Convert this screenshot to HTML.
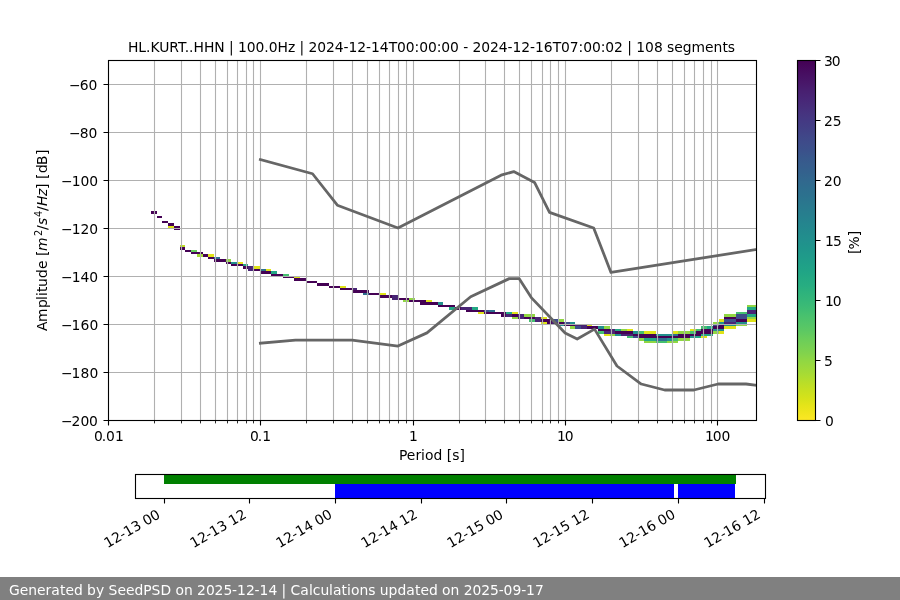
<!DOCTYPE html>
<html lang="en">
<head>
<meta charset="utf-8">
<title>HL.KURT..HHN PPSD</title>
<style>
html,body{margin:0;padding:0;background:#fff;}
body{width:900px;height:600px;overflow:hidden;position:relative;font-family:'DejaVu Sans','Liberation Sans',sans-serif;}
#plot{position:absolute;left:0;top:0;display:block;}
text{white-space:pre;}
</style>
</head>
<body>
<svg id="plot" width="900" height="600" viewBox="0 0 900 600" role="img" aria-label="Probabilistic power spectral density for HL.KURT..HHN">
<rect width="900" height="600" fill="#fff"/>
<g id="psd-histogram" shape-rendering="crispEdges">
<rect x="151" y="211" width="6" height="3" fill="#440154"/>
<rect x="157" y="216" width="5" height="2" fill="#440154"/>
<rect x="162" y="221" width="6" height="2" fill="#440154"/>
<rect x="168" y="223" width="6" height="3" fill="#440154"/>
<rect x="174" y="226" width="6" height="2" fill="#440154"/>
<rect x="168" y="226" width="6" height="2" fill="#dfe318"/>
<rect x="174" y="228" width="6" height="2" fill="#440154"/>
<rect x="180" y="245" width="5" height="2" fill="#bddf26"/>
<rect x="180" y="247" width="5" height="3" fill="#440154"/>
<rect x="185" y="250" width="6" height="2" fill="#440154"/>
<rect x="191" y="250" width="6" height="2" fill="#67cc5c"/>
<rect x="191" y="252" width="12" height="2" fill="#440154"/>
<rect x="203" y="254" width="5" height="3" fill="#440154"/>
<rect x="197" y="254" width="6" height="3" fill="#a5db36"/>
<rect x="208" y="254" width="6" height="3" fill="#dfe318"/>
<rect x="214" y="257" width="6" height="2" fill="#2d708e"/>
<rect x="208" y="257" width="6" height="2" fill="#440154"/>
<rect x="214" y="259" width="12" height="3" fill="#440154"/>
<rect x="226" y="259" width="5" height="3" fill="#90d743"/>
<rect x="231" y="262" width="6" height="2" fill="#21908d"/>
<rect x="226" y="262" width="5" height="2" fill="#440154"/>
<rect x="237" y="262" width="6" height="2" fill="#dfe318"/>
<rect x="243" y="264" width="5" height="2" fill="#22a884"/>
<rect x="231" y="264" width="12" height="2" fill="#440154"/>
<rect x="243" y="266" width="5" height="3" fill="#440154"/>
<rect x="248" y="266" width="6" height="3" fill="#482475"/>
<rect x="254" y="266" width="6" height="3" fill="#dfe318"/>
<rect x="260" y="269" width="6" height="2" fill="#2d708e"/>
<rect x="254" y="269" width="6" height="2" fill="#440154"/>
<rect x="248" y="269" width="6" height="2" fill="#482475"/>
<rect x="266" y="269" width="5" height="2" fill="#dfe318"/>
<rect x="271" y="271" width="6" height="3" fill="#22a884"/>
<rect x="260" y="271" width="11" height="3" fill="#440154"/>
<rect x="271" y="274" width="12" height="2" fill="#440154"/>
<rect x="283" y="274" width="6" height="2" fill="#44bf70"/>
<rect x="283" y="276" width="11" height="2" fill="#440154"/>
<rect x="294" y="276" width="6" height="2" fill="#dfe318"/>
<rect x="294" y="278" width="12" height="3" fill="#440154"/>
<rect x="306" y="281" width="11" height="2" fill="#440154"/>
<rect x="317" y="283" width="12" height="3" fill="#440154"/>
<rect x="329" y="286" width="11" height="2" fill="#440154"/>
<rect x="340" y="286" width="6" height="2" fill="#dfe318"/>
<rect x="340" y="288" width="12" height="2" fill="#440154"/>
<rect x="352" y="288" width="5" height="2" fill="#482475"/>
<rect x="352" y="290" width="17" height="3" fill="#440154"/>
<rect x="363" y="293" width="6" height="2" fill="#2d708e"/>
<rect x="369" y="293" width="11" height="2" fill="#440154"/>
<rect x="380" y="293" width="6" height="2" fill="#dfe318"/>
<rect x="380" y="295" width="12" height="3" fill="#440154"/>
<rect x="392" y="295" width="6" height="3" fill="#482475"/>
<rect x="398" y="298" width="11" height="2" fill="#440154"/>
<rect x="392" y="298" width="6" height="2" fill="#482475"/>
<rect x="409" y="298" width="6" height="2" fill="#90d743"/>
<rect x="409" y="300" width="17" height="2" fill="#440154"/>
<rect x="403" y="300" width="6" height="2" fill="#90d743"/>
<rect x="426" y="300" width="6" height="2" fill="#dfe318"/>
<rect x="438" y="302" width="5" height="3" fill="#21908d"/>
<rect x="420" y="302" width="18" height="3" fill="#440154"/>
<rect x="438" y="305" width="17" height="2" fill="#440154"/>
<rect x="747" y="305" width="9" height="2" fill="#90d743"/>
<rect x="449" y="307" width="6" height="3" fill="#22a884"/>
<rect x="472" y="307" width="6" height="3" fill="#22a884"/>
<rect x="747" y="307" width="9" height="3" fill="#22a884"/>
<rect x="455" y="307" width="6" height="3" fill="#440154"/>
<rect x="461" y="307" width="11" height="3" fill="#482475"/>
<rect x="489" y="310" width="6" height="2" fill="#2d708e"/>
<rect x="484" y="310" width="5" height="2" fill="#3d4d8a"/>
<rect x="466" y="310" width="18" height="2" fill="#440154"/>
<rect x="747" y="310" width="9" height="2" fill="#482475"/>
<rect x="506" y="312" width="6" height="2" fill="#22a884"/>
<rect x="484" y="312" width="22" height="2" fill="#440154"/>
<rect x="736" y="312" width="11" height="2" fill="#44bf70"/>
<rect x="747" y="312" width="9" height="2" fill="#482475"/>
<rect x="478" y="312" width="6" height="2" fill="#dfe318"/>
<rect x="512" y="312" width="6" height="2" fill="#dfe318"/>
<rect x="747" y="314" width="9" height="3" fill="#22a884"/>
<rect x="736" y="314" width="11" height="3" fill="#3d4d8a"/>
<rect x="501" y="314" width="5" height="3" fill="#440154"/>
<rect x="512" y="314" width="6" height="3" fill="#440154"/>
<rect x="506" y="314" width="6" height="3" fill="#482475"/>
<rect x="518" y="314" width="6" height="3" fill="#482475"/>
<rect x="524" y="314" width="11" height="3" fill="#90d743"/>
<rect x="724" y="314" width="12" height="3" fill="#90d743"/>
<rect x="736" y="317" width="11" height="2" fill="#3d4d8a"/>
<rect x="524" y="317" width="11" height="2" fill="#440154"/>
<rect x="724" y="317" width="12" height="2" fill="#440154"/>
<rect x="518" y="317" width="6" height="2" fill="#482475"/>
<rect x="535" y="317" width="6" height="2" fill="#482475"/>
<rect x="512" y="317" width="6" height="2" fill="#90d743"/>
<rect x="747" y="317" width="9" height="2" fill="#90d743"/>
<rect x="541" y="317" width="6" height="2" fill="#dfe318"/>
<rect x="552" y="319" width="6" height="3" fill="#3d4d8a"/>
<rect x="724" y="319" width="12" height="3" fill="#3d4d8a"/>
<rect x="541" y="319" width="11" height="3" fill="#440154"/>
<rect x="736" y="319" width="11" height="3" fill="#440154"/>
<rect x="529" y="319" width="6" height="3" fill="#44bf70"/>
<rect x="535" y="319" width="6" height="3" fill="#482475"/>
<rect x="558" y="319" width="6" height="3" fill="#90d743"/>
<rect x="719" y="319" width="5" height="3" fill="#dfe318"/>
<rect x="747" y="319" width="9" height="3" fill="#dfe318"/>
<rect x="570" y="322" width="5" height="2" fill="#21908d"/>
<rect x="719" y="322" width="5" height="2" fill="#21908d"/>
<rect x="736" y="322" width="11" height="2" fill="#21908d"/>
<rect x="564" y="322" width="6" height="2" fill="#3d4d8a"/>
<rect x="547" y="322" width="5" height="2" fill="#440154"/>
<rect x="558" y="322" width="6" height="2" fill="#440154"/>
<rect x="552" y="322" width="6" height="2" fill="#482475"/>
<rect x="724" y="322" width="12" height="2" fill="#482475"/>
<rect x="713" y="322" width="6" height="2" fill="#90d743"/>
<rect x="541" y="322" width="6" height="2" fill="#dfe318"/>
<rect x="558" y="324" width="6" height="2" fill="#21908d"/>
<rect x="724" y="324" width="12" height="2" fill="#21908d"/>
<rect x="713" y="324" width="6" height="2" fill="#3d4d8a"/>
<rect x="564" y="324" width="11" height="2" fill="#440154"/>
<rect x="719" y="324" width="5" height="2" fill="#440154"/>
<rect x="575" y="324" width="12" height="2" fill="#482475"/>
<rect x="736" y="324" width="11" height="2" fill="#90d743"/>
<rect x="587" y="324" width="5" height="2" fill="#dfe318"/>
<rect x="598" y="326" width="6" height="3" fill="#21908d"/>
<rect x="707" y="326" width="6" height="3" fill="#22a884"/>
<rect x="575" y="326" width="6" height="3" fill="#3d4d8a"/>
<rect x="587" y="326" width="11" height="3" fill="#440154"/>
<rect x="713" y="326" width="11" height="3" fill="#440154"/>
<rect x="701" y="326" width="6" height="3" fill="#44bf70"/>
<rect x="581" y="326" width="6" height="3" fill="#482475"/>
<rect x="570" y="326" width="5" height="3" fill="#90d743"/>
<rect x="604" y="326" width="6" height="3" fill="#90d743"/>
<rect x="724" y="326" width="12" height="3" fill="#dfe318"/>
<rect x="713" y="329" width="11" height="2" fill="#21908d"/>
<rect x="615" y="329" width="6" height="2" fill="#22a884"/>
<rect x="598" y="329" width="12" height="2" fill="#440154"/>
<rect x="701" y="329" width="12" height="2" fill="#440154"/>
<rect x="696" y="329" width="5" height="2" fill="#44bf70"/>
<rect x="610" y="329" width="5" height="2" fill="#482475"/>
<rect x="621" y="329" width="6" height="2" fill="#90d743"/>
<rect x="627" y="329" width="6" height="2" fill="#dfe318"/>
<rect x="690" y="329" width="6" height="2" fill="#dfe318"/>
<rect x="633" y="331" width="5" height="3" fill="#21908d"/>
<rect x="615" y="331" width="18" height="3" fill="#440154"/>
<rect x="696" y="331" width="17" height="3" fill="#440154"/>
<rect x="598" y="331" width="6" height="3" fill="#44bf70"/>
<rect x="638" y="331" width="6" height="3" fill="#44bf70"/>
<rect x="690" y="331" width="6" height="3" fill="#44bf70"/>
<rect x="604" y="331" width="11" height="3" fill="#482475"/>
<rect x="678" y="331" width="12" height="3" fill="#90d743"/>
<rect x="713" y="331" width="6" height="3" fill="#90d743"/>
<rect x="644" y="331" width="12" height="3" fill="#dfe318"/>
<rect x="673" y="331" width="5" height="3" fill="#dfe318"/>
<rect x="719" y="331" width="5" height="3" fill="#dfe318"/>
<rect x="615" y="334" width="6" height="2" fill="#21908d"/>
<rect x="656" y="334" width="17" height="2" fill="#21908d"/>
<rect x="701" y="334" width="12" height="2" fill="#22a884"/>
<rect x="673" y="334" width="5" height="2" fill="#2d708e"/>
<rect x="633" y="334" width="23" height="2" fill="#440154"/>
<rect x="678" y="334" width="23" height="2" fill="#440154"/>
<rect x="621" y="334" width="12" height="2" fill="#482475"/>
<rect x="610" y="334" width="5" height="2" fill="#90d743"/>
<rect x="604" y="334" width="6" height="2" fill="#dfe318"/>
<rect x="690" y="336" width="6" height="2" fill="#21908d"/>
<rect x="696" y="336" width="5" height="2" fill="#22a884"/>
<rect x="633" y="336" width="5" height="2" fill="#3d4d8a"/>
<rect x="638" y="336" width="52" height="2" fill="#440154"/>
<rect x="627" y="336" width="6" height="2" fill="#44bf70"/>
<rect x="701" y="336" width="6" height="2" fill="#dfe318"/>
<rect x="667" y="338" width="6" height="3" fill="#21908d"/>
<rect x="644" y="338" width="12" height="3" fill="#22a884"/>
<rect x="656" y="338" width="11" height="3" fill="#2d708e"/>
<rect x="673" y="338" width="5" height="3" fill="#44bf70"/>
<rect x="638" y="338" width="6" height="3" fill="#90d743"/>
<rect x="678" y="338" width="12" height="3" fill="#90d743"/>
<rect x="656" y="341" width="11" height="2" fill="#44bf70"/>
<rect x="644" y="341" width="12" height="2" fill="#90d743"/>
<rect x="667" y="341" width="11" height="2" fill="#90d743"/>
</g>
<path id="grid" d="M154.5 60.5V420.5M181.5 60.5V420.5M200.5 60.5V420.5M215.5 60.5V420.5M227.5 60.5V420.5M237.5 60.5V420.5M246.5 60.5V420.5M253.5 60.5V420.5M260.5 60.5V420.5M306.5 60.5V420.5M333.5 60.5V420.5M352.5 60.5V420.5M367.5 60.5V420.5M379.5 60.5V420.5M389.5 60.5V420.5M398.5 60.5V420.5M406.5 60.5V420.5M413.5 60.5V420.5M459.5 60.5V420.5M485.5 60.5V420.5M504.5 60.5V420.5M519.5 60.5V420.5M531.5 60.5V420.5M542.5 60.5V420.5M550.5 60.5V420.5M558.5 60.5V420.5M565.5 60.5V420.5M611.5 60.5V420.5M638.5 60.5V420.5M657.5 60.5V420.5M672.5 60.5V420.5M684.5 60.5V420.5M694.5 60.5V420.5M703.5 60.5V420.5M711.5 60.5V420.5M717.5 60.5V420.5M108.5 372.5H756.5M108.5 324.5H756.5M108.5 276.5H756.5M108.5 228.5H756.5M108.5 180.5H756.5M108.5 132.5H756.5M108.5 84.5H756.5" fill="none" stroke="#b0b0b0" stroke-width="1.111"/>
<clipPath id="axclip"><rect x="108.5" y="60.5" width="648" height="360"/></clipPath>
<g id="noise-models" clip-path="url(#axclip)" fill="none" stroke="#666666" stroke-width="2.778" stroke-linejoin="round" stroke-linecap="square">
<polyline id="nhnm" points="260.37,159.60 312.54,173.76 337.34,205.21 397.97,227.99 501.08,175.20 513.72,171.59 534.53,182.40 549.51,212.40 593.68,227.99 610.97,272.40 801.27,242.39"/>
<polyline id="nlnm" points="260.37,343.20 295.48,340.08 352.10,340.08 397.97,346.07 426.97,332.88 470.67,296.75 509.26,278.63 519.24,278.64 531.30,297.59 565.10,333.00 577.17,339.00 594.53,329.10 616.98,366.00 641.24,384.01 664.63,389.99 693.87,390.00 718.13,384.01 746.05,384.00 796.08,389.97 836.04,382.49"/>
</g>
<g id="axes-frame" fill="none" stroke="#000" stroke-width="1.111" stroke-linecap="square">
<rect x="108.5" y="60.5" width="648" height="360"/>
<path stroke-linecap="butt" d="M260.5 420.5V425.5M413.5 420.5V425.5M565.5 420.5V425.5M717.5 420.5V425.5M108.5 420.5V425.5M103.5 372.5H108.5M103.5 324.5H108.5M103.5 276.5H108.5M103.5 228.5H108.5M103.5 180.5H108.5M103.5 132.5H108.5M103.5 84.5H108.5M103.5 420.5H108.5"/>
<path stroke-linecap="butt" stroke-width="0.833" d="M154.5 420.5V423.4M181.5 420.5V423.4M200.5 420.5V423.4M215.5 420.5V423.4M227.5 420.5V423.4M237.5 420.5V423.4M246.5 420.5V423.4M253.5 420.5V423.4M306.5 420.5V423.4M333.5 420.5V423.4M352.5 420.5V423.4M367.5 420.5V423.4M379.5 420.5V423.4M389.5 420.5V423.4M398.5 420.5V423.4M406.5 420.5V423.4M459.5 420.5V423.4M485.5 420.5V423.4M504.5 420.5V423.4M519.5 420.5V423.4M531.5 420.5V423.4M542.5 420.5V423.4M550.5 420.5V423.4M558.5 420.5V423.4M611.5 420.5V423.4M638.5 420.5V423.4M657.5 420.5V423.4M672.5 420.5V423.4M684.5 420.5V423.4M694.5 420.5V423.4M703.5 420.5V423.4M711.5 420.5V423.4"/>
</g>
<linearGradient id="cbgrad" x1="0" y1="0" x2="0" y2="1"><stop offset="0.0000" stop-color="#440154"/><stop offset="0.0208" stop-color="#46085c"/><stop offset="0.0417" stop-color="#471063"/><stop offset="0.0625" stop-color="#481769"/><stop offset="0.0833" stop-color="#481f70"/><stop offset="0.1042" stop-color="#482576"/><stop offset="0.1250" stop-color="#472c7a"/><stop offset="0.1458" stop-color="#46337f"/><stop offset="0.1667" stop-color="#443983"/><stop offset="0.1875" stop-color="#423f85"/><stop offset="0.2083" stop-color="#404688"/><stop offset="0.2292" stop-color="#3e4c8a"/><stop offset="0.2500" stop-color="#3b518b"/><stop offset="0.2708" stop-color="#38588c"/><stop offset="0.2917" stop-color="#365d8d"/><stop offset="0.3125" stop-color="#33628d"/><stop offset="0.3333" stop-color="#31688e"/><stop offset="0.3542" stop-color="#2e6d8e"/><stop offset="0.3750" stop-color="#2c718e"/><stop offset="0.3958" stop-color="#2a778e"/><stop offset="0.4167" stop-color="#287c8e"/><stop offset="0.4375" stop-color="#26818e"/><stop offset="0.4583" stop-color="#24868e"/><stop offset="0.4792" stop-color="#228b8d"/><stop offset="0.5000" stop-color="#21908d"/><stop offset="0.5208" stop-color="#1f958b"/><stop offset="0.5417" stop-color="#1f9a8a"/><stop offset="0.5625" stop-color="#1f9f88"/><stop offset="0.5833" stop-color="#20a486"/><stop offset="0.6042" stop-color="#23a983"/><stop offset="0.6250" stop-color="#27ad81"/><stop offset="0.6458" stop-color="#2eb37c"/><stop offset="0.6667" stop-color="#35b779"/><stop offset="0.6875" stop-color="#3dbc74"/><stop offset="0.7083" stop-color="#48c16e"/><stop offset="0.7292" stop-color="#52c569"/><stop offset="0.7500" stop-color="#5cc863"/><stop offset="0.7708" stop-color="#69cd5b"/><stop offset="0.7917" stop-color="#75d054"/><stop offset="0.8125" stop-color="#81d34d"/><stop offset="0.8333" stop-color="#90d743"/><stop offset="0.8542" stop-color="#9dd93b"/><stop offset="0.8750" stop-color="#aadc32"/><stop offset="0.8958" stop-color="#bade28"/><stop offset="0.9167" stop-color="#c8e020"/><stop offset="0.9375" stop-color="#d5e21a"/><stop offset="0.9583" stop-color="#e5e419"/><stop offset="0.9792" stop-color="#f1e51d"/><stop offset="1.0000" stop-color="#fde725"/></linearGradient>
<rect id="colorbar" x="797.5" y="60.5" width="18" height="360" fill="url(#cbgrad)" stroke="#000" stroke-width="1.111"/>
<path d="M815.5 60.5H820.5M815.5 120.5H820.5M815.5 180.5H820.5M815.5 240.5H820.5M815.5 300.5H820.5M815.5 360.5H820.5M815.5 420.5H820.5" fill="none" stroke="#000" stroke-width="1.111"/>
<g id="coverage" shape-rendering="crispEdges">
<rect x="164" y="475" width="572" height="9" fill="#008000"/>
<rect x="335" y="484" width="339" height="14" fill="#0000ff"/>
<rect x="678" y="484" width="57" height="14" fill="#0000ff"/>
</g>
<rect x="135.5" y="474.5" width="630" height="24" fill="none" stroke="#000" stroke-width="1.111"/>
<path d="M164.5 498.5V503.5M249.5 498.5V503.5M335.5 498.5V503.5M421.5 498.5V503.5M506.5 498.5V503.5M592.5 498.5V503.5M678.5 498.5V503.5M764.5 498.5V503.5" fill="none" stroke="#000" stroke-width="1.111"/>
<g id="labels" font-family="'DejaVu Sans','Liberation Sans',sans-serif" font-size="13.889px" fill="#000">
<text x="94.08 101.83 105.95 114.95" y="440.83">0.01</text>
<text x="250.07 257.82 262.19" y="440.58">0.1</text>
<text x="409.1" y="440.58">1</text>
<text x="557.09 564.72" y="440.83">10</text>
<text x="704.94 712.82 721.57" y="440.58">100</text>
<text x="399.11 406.74 415.49 420.99 425.11 433.61 442.49 446.86 452.36 459.49" y="459.57">Period [s]</text>
<text x="61 71.62 80.38 89.12" y="425.58">−200</text>
<text x="61 71.62 80.5 89.38" y="377.58">−180</text>
<text x="61 71.62 80.5 89.38" y="329.58">−160</text>
<text x="60.88 71.75 80.38 89.13" y="281.83">−140</text>
<text x="60.88 71.75 80.38 89.13" y="233.83">−120</text>
<text x="60.88 71.75 80.38 89.13" y="185.83">−100</text>
<text x="68.93 79.81 88.43" y="137.58">−80</text>
<text x="68.93 79.81 88.43" y="89.58">−60</text>
<text x="127.9 138.28 146.03 150.4 159.28 169.15 178.03 184.65 189.03 193.4 204.03 214.15 224.53 228.9 233.53 237.9 246.78 255.53 264.27 268.65 277.4 288.02 295.15 299.52 304.15 308.52 317.27 326.02 334.77 343.52 348.4 357.27 366.02 370.9 379.77 388.77 397.02 405.77 414.52 419.15 427.9 436.65 441.27 450.02 458.77 463.15 468.02 472.4 481.15 489.9 498.65 507.4 512.52 521.15 529.9 535.02 543.65 552.77 561.02 569.77 578.52 583.15 591.9 600.65 605.27 614.02 622.77 627.15 631.77 636.15 645.02 654.02 662.65 667.02 674.15 682.65 691.52 705.02 713.52 722.52 727.77" y="51.67">HL.KURT..HHN | 100.0Hz | 2024-12-14T00:00:00 - 2024-12-16T07:00:02 | 108 segments</text>
<text x="824.97" y="425.83">0</text>
<text x="823.97" y="365.83">5</text>
<text x="824.97 832.85" y="305.58">10</text>
<text x="824.97 833.1" y="245.58">15</text>
<text x="823.97 832.72" y="185.83">20</text>
<text x="823.97 832.72" y="125.83">25</text>
<text x="823.97 831.72" y="65.58">30</text>
<text transform="translate(858.5 255.11) rotate(-90)" x="1 5.5 18.88" y="0">[%]</text>
<text transform="translate(107.51 548.23) rotate(-30)" x="0 8.88 17.38 22.5 31.38 40.12 44.5 53" y="0">12-13 00</text>
<text transform="translate(193.46 548.23) rotate(-30)" x="0 8.88 17.38 22.5 31.38 40.12 44.5 53.38" y="0">12-13 12</text>
<text transform="translate(279.4 548.23) rotate(-30)" x="0 9.12 17.38 22.75 31.62 40.12 44.5 53.25" y="0">12-14 00</text>
<text transform="translate(364.6 548.23) rotate(-30)" x="0 8.88 17.88 22.5 31.38 40.12 44.25 53.38" y="0">12-14 12</text>
<text transform="translate(450.54 548.23) rotate(-30)" x="0 8.88 17.38 22.5 31.38 40.12 44.5 53" y="0">12-15 00</text>
<text transform="translate(536.49 548.23) rotate(-30)" x="0 8.88 17.38 22.5 31.38 40.12 44.5 53.38" y="0">12-15 12</text>
<text transform="translate(622.43 548.23) rotate(-30)" x="0 9.12 17.38 22.5 31.62 40.25 44.62 53.38" y="0">12-16 00</text>
<text transform="translate(707.63 548.23) rotate(-30)" x="-0.25 8.88 17.88 22.5 31.38 40.25 44.62 53.25" y="0">12-16 12</text>
<text id="ylabel" transform="translate(48.66 331.79) rotate(-90)"><tspan x="0.75 9.75 23.78 31.85 35.71 39.81 44.76 53.81 62.88 71.17 75.84" y="-1.36">Amplitude [</tspan><tspan x="80.76" y="-1.36" font-style="oblique">m</tspan><tspan x="95.68" y="-6.67" font-size="9.722px">2</tspan><tspan x="101.75" y="-1.36">/</tspan><tspan x="106.68" y="-1.36" font-style="oblique">s</tspan><tspan x="114.81" y="-6.67" font-size="9.722px">4</tspan><tspan x="120.87" y="-1.36">/</tspan><tspan x="125.88 135.82" y="-1.36" font-style="oblique">Hz</tspan><tspan x="142.86 148.53 152.7 158.86 166.68 176.71" y="-1.36">] [dB]</tspan></text>
</g>
<g id="footer" font-family="'DejaVu Sans','Liberation Sans',sans-serif" font-size="13.889px" fill="#fff">
<rect x="0" y="577" width="900" height="23" fill="#808080"/>
<text x="9 19.75 28.25 37 45.5 51.25 59.88 65.38 73.88 82.75 87.12 96 104.25 108.62 117.38 125.88 134.38 143.25 151.62 160.38 171.12 175.5 184 192.75 197.12 205.88 214.62 223.38 232.12 237 245.88 254.62 259.5 268.38 277.12 281.5 286.12 290.5 300.25 308.88 312.75 320.38 329.12 333 341.62 347.12 351 359.5 368.25 375.38 379.75 388.5 397.38 406.25 414.88 420.38 428.88 437.75 442.12 450.62 459.38 463.75 472.5 481.25 490 498.75 503.62 512.38 521.25 526.12 535" y="595">Generated by SeedPSD on 2025-12-14 | Calculations updated on 2025-09-17</text>
</g>
</svg>
</body>
</html>
